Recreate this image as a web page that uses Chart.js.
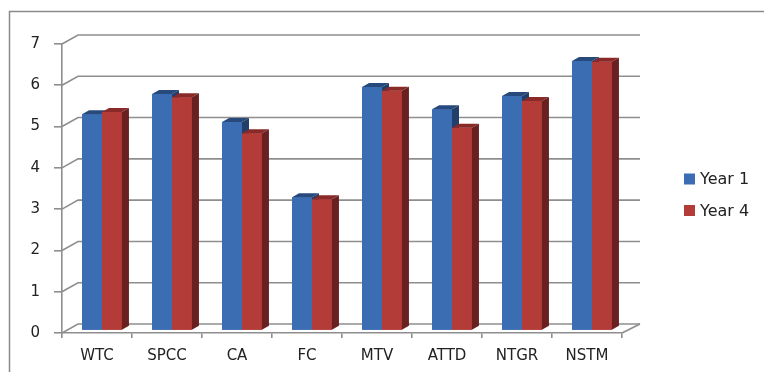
<!DOCTYPE html>
<html>
<head>
<meta charset="utf-8">
<script src="https://cdn.jsdelivr.net/npm/chart.js@4/dist/chart.umd.min.js"></script>
<style>
  html, body { margin: 0; padding: 0; background: #fff; }
  #wrap { width: 764px; height: 372px; }
</style>
</head>
<body>
<div id="wrap"><canvas id="bar-chart"></canvas></div>
<script>
const categories = ['WTC', 'SPCC', 'CA', 'FC', 'MTV', 'ATTD', 'NTGR', 'NSTM'];
const year1 = [5.24, 5.73, 5.05, 3.23, 5.90, 5.36, 5.68, 6.53];
const year4 = [5.29, 5.65, 4.78, 3.18, 5.81, 4.91, 5.56, 6.51];
const yTicks = [0, 1, 2, 3, 4, 5, 6, 7];

const FONT = "'DejaVu Sans', sans-serif";
const GRID = '#8e8e8e';
// depth of the floor/back wall and of each bar
const WALL = { dx: 16, dy: -9 };
const BAR = { dx: 7, dy: -4 };
const SHIFT = { dx: 5, dy: -2.5 };

const faces = [
  { top: '#27497c', side: '#223f6b' },
  { top: '#8a2a28', side: '#6a2020' },
];

function poly(ctx, pts, color) {
  ctx.beginPath();
  ctx.moveTo(pts[0][0], pts[0][1]);
  for (let i = 1; i < pts.length; i++) ctx.lineTo(pts[i][0], pts[i][1]);
  ctx.closePath();
  ctx.fillStyle = color;
  ctx.fill();
}

const wall3d = {
  id: 'wall3d',
  beforeDraw(chart) {
    const ctx = chart.ctx;
    const ca = chart.chartArea;
    const y = chart.scales.y;
    ctx.save();
    // outer frame
    ctx.strokeStyle = '#8a8a8a';
    ctx.lineWidth = 1.5;
    ctx.beginPath();
    ctx.moveTo(9.5, chart.height);
    ctx.lineTo(9.5, 11.5);
    ctx.lineTo(chart.width, 11.5);
    ctx.stroke();
    // back wall gridlines
    ctx.strokeStyle = GRID;
    ctx.lineWidth = 1.6;
    yTicks.forEach((v) => {
      const py = y.getPixelForValue(v);
      ctx.beginPath();
      ctx.moveTo(ca.left, py);
      ctx.lineTo(ca.left + WALL.dx, py + WALL.dy);
      ctx.lineTo(ca.right + WALL.dx + 2, py + WALL.dy);
      ctx.stroke();
    });
    // floor right edge
    ctx.beginPath();
    ctx.moveTo(ca.right, ca.bottom);
    ctx.lineTo(ca.right + WALL.dx + 2, ca.bottom + WALL.dy);
    ctx.stroke();
    ctx.restore();
  },
  beforeDatasetsDraw(chart) {
    chart.ctx.save();
    chart.ctx.translate(SHIFT.dx, SHIFT.dy);
  },
  afterDatasetsDraw(chart) {
    const ctx = chart.ctx;
    const metas = [chart.getDatasetMeta(0), chart.getDatasetMeta(1)];
    for (let i = 0; i < categories.length; i++) {
      metas.forEach((meta, d) => {
        const el = meta.data[i];
        el.draw(ctx);
        const { x, y, base, width } = el.getProps(['x', 'y', 'base', 'width'], true);
        const l = x - width / 2, r = x + width / 2;
        poly(ctx, [[l, y], [l + BAR.dx, y + BAR.dy], [r + BAR.dx, y + BAR.dy], [r, y]], faces[d].top);
        poly(ctx, [[r, y], [r + BAR.dx, y + BAR.dy], [r + BAR.dx, base + BAR.dy], [r, base]], faces[d].side);
      });
    }
    ctx.restore();
  },
  afterDraw(chart) {
    // legend on the right
    const ctx = chart.ctx;
    const items = chart.data.datasets;
    ctx.save();
    ctx.font = '16px ' + FONT;
    ctx.textBaseline = 'middle';
    ctx.fillStyle = '#222';
    items.forEach((ds, i) => {
      const cy = 179 + i * 31.5;
      ctx.fillStyle = ds.backgroundColor;
      ctx.fillRect(684, cy - 5.5, 11, 11);
      ctx.fillStyle = '#222';
      ctx.fillText(ds.label, 700, cy + 1);
    });
    ctx.restore();
  },
};

const ctx = document.getElementById('bar-chart').getContext('2d');
new Chart(ctx, {
  type: 'bar',
  data: {
    labels: categories,
    datasets: [
      { label: 'Year 1', data: year1, backgroundColor: '#3b6db3' },
      { label: 'Year 4', data: year4, backgroundColor: '#b33c39' },
    ],
  },
  options: {
    responsive: true,
    maintainAspectRatio: false,
    animation: false,
    devicePixelRatio: 1,
    layout: { padding: { top: 44, right: 142, bottom: 0, left: 0 } },
    datasets: { bar: { categoryPercentage: 0.57, barPercentage: 1, clip: false } },
    plugins: {
      legend: { display: false },
      tooltip: { enabled: false },
    },
    scales: {
      x: {
        afterFit: (s) => { s.height = 39; },
        grid: {
          offset: true,
          drawOnChartArea: false,
          tickLength: 5,
          color: GRID,
          lineWidth: 1.6,
        },
        border: { color: GRID, width: 1.6 },
        ticks: { color: '#222', padding: 9, font: { family: FONT, size: 15 } },
      },
      y: {
        min: 0,
        max: 7,
        afterFit: (s) => { s.width = 62; },
        afterBuildTicks: (s) => { s.ticks = yTicks.map((v) => ({ value: v })); },
        grid: {
          drawOnChartArea: false,
          tickLength: 8,
          color: GRID,
          lineWidth: 1.6,
        },
        border: { color: GRID, width: 1.6 },
        ticks: { color: '#222', padding: 14, font: { family: FONT, size: 15 } },
      },
    },
  },
  plugins: [wall3d],
});
</script>
</body>
</html>
